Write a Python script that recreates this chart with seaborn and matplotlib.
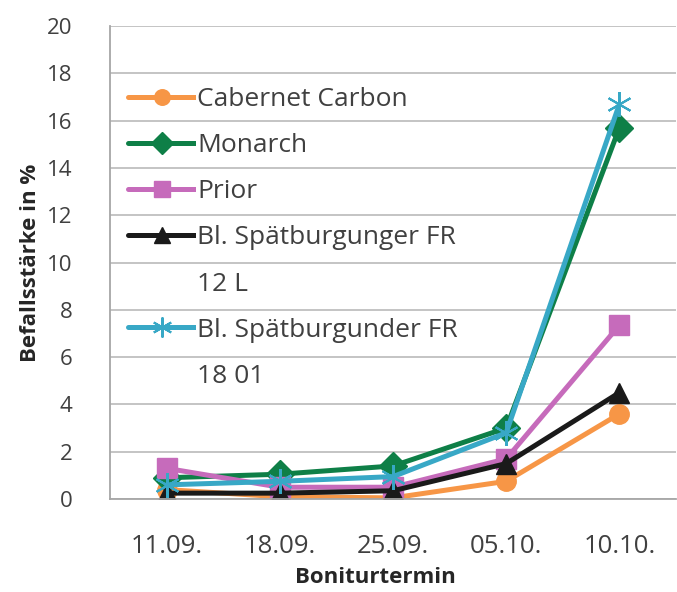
import numpy as np
import pandas as pd
import seaborn as sns
import matplotlib.pyplot as plt

termine = ['11.09.', '18.09.', '25.09.', '05.10.', '10.10.']
sorten = ['Cabernet Carbon', 'Monarch', 'Prior',
          'Bl. Spätburgunger FR\n12 L', 'Bl. Spätburgunder FR\n18 01']
cabernet = [0.4, 0.1, 0.05, 0.75, 3.6]
monarch = [0.9, 1.05, 1.4, 3.0, 15.7]
prior = [1.3, 0.5, 0.5, 1.7, 7.35]
fr12l = [0.25, 0.25, 0.35, 1.5, 4.5]
fr1801 = [0.6, 0.75, 0.95, 2.8, 16.7]

farben = ['#F79646', '#0E7F47', '#C66BBB', '#1A1A1A', '#38A8C6']
marker = ['o', 'D', 's', '^', (6, 2, 0)]

werte = [cabernet, monarch, prior, fr12l, fr1801]

sns.set_style('white')
plt.rcParams['font.family'] = ['Open Sans', 'DejaVu Sans']

fig = plt.figure(figsize=(6.77, 5.92), dpi=100)
ax = fig.add_axes([0.1625, 0.157, 0.836, 0.799])

for name, w, f, m in zip(sorten, werte, farben, marker):
    stern = m == (6, 2, 0)
    sns.lineplot(x=termine, y=w, color=f, marker=m, linewidth=3.6,
                 markersize=18 if stern else 14, markeredgecolor=f,
                 markeredgewidth=1.5 if stern else 1, label=name, ax=ax)

ax.set_xlim(-0.5, 4.5)
ax.set_ylim(0, 20)
ax.set_yticks(range(0, 21, 2))
ax.yaxis.grid(True, color='#BFBFBF', linewidth=1.3)
ax.set_axisbelow(True)
for s in ['top', 'right']:
    ax.spines[s].set_visible(False)
for s in ['left', 'bottom']:
    ax.spines[s].set_color('#A6A6A6')
    ax.spines[s].set_linewidth(1.3)
ax.tick_params(axis='y', length=7, width=1.3, color='#A6A6A6', labelsize=16,
               labelcolor='#404040', pad=20)
ax.tick_params(axis='x', length=0, labelsize=18.5, labelcolor='#404040', pad=25)

ax.set_xlabel('Boniturtermin', fontsize=16, fontweight='bold', color='#262626')
ax.xaxis.set_label_coords(0.468, -0.143)
ax.set_ylabel('Befallsstärke in %', fontsize=16, fontweight='bold', color='#262626', labelpad=4)

# mehrzeilige Legendeneinträge: zweite Zeile als eigener Eintrag ohne Symbol
h_alt, l_alt = ax.get_legend_handles_labels()
handles, labels = [], []
for h, l in zip(h_alt, l_alt):
    teile = l.split('\n')
    handles.append(h)
    labels.append(teile[0])
    for rest in teile[1:]:
        handles.append(plt.Line2D([], [], linestyle='none'))
        labels.append(rest)

leg = ax.legend(handles, labels, loc='upper left', bbox_to_anchor=(0.0, 0.91),
                frameon=False, fontsize=19, handlelength=2.55, handletextpad=0.05,
                labelspacing=0.8, borderaxespad=0.3, markerscale=0.8)
for t in leg.get_texts():
    t.set_color('#404040')
    t.set_bbox(dict(facecolor='white', edgecolor='none', pad=1))

fig.savefig('out.png', dpi=100)
